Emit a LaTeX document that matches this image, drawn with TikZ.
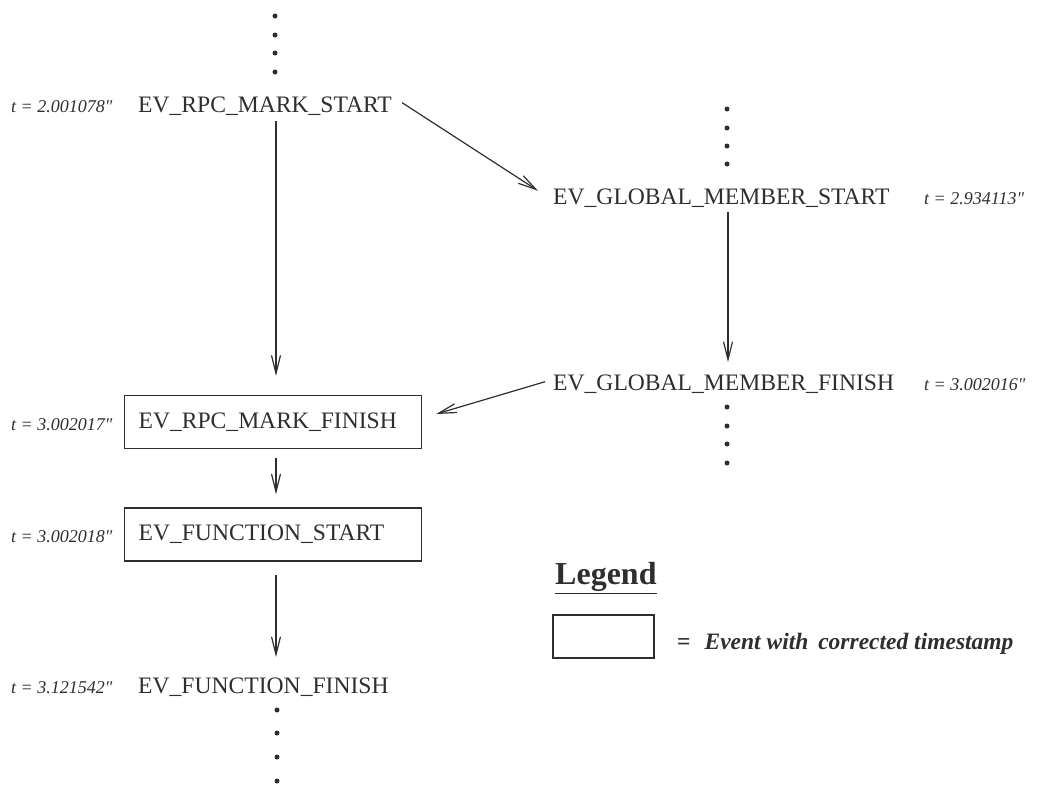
\documentclass[tikz,border=0pt]{standalone}
\usepackage{fontspec}
\setmainfont{Liberation Serif}
\usetikzlibrary{arrows.meta}
\newcommand{\secmark}{\textquotedbl}
\begin{document}
\begin{tikzpicture}[x=1pt,y=-1pt,color=black!82,
  ev/.style={anchor=base west, inner sep=0pt, font=\fontsize{23.6}{26}\selectfont},
  ts/.style={anchor=base west, inner sep=0pt, font=\fontsize{18}{20}\selectfont\itshape},
  evbox/.style={draw, line width=1.2pt, anchor=west, minimum width=297pt, minimum height=53pt,
    inner xsep=14pt, text width=269pt, align=left, font=\fontsize{23.6}{26}\selectfont},
  arr/.style={line width=1.2pt, -{Straight Barb[length=18pt,width=9pt,line width=1.2pt]}},
  vdot/.style={radius=2.5pt}
]
\useasboundingbox (0,0) rectangle (1052,787);

% column axes for the vertical connectors
\coordinate (colL) at (276,0);
\coordinate (colR) at (728,0);

% left chain of events
\node[ev] (rms) at (138,112) {EV\_RPC\_MARK\_START};
\node[ts] (trms) at (11,112) {t = 2.001078\secmark};
\node[evbox] (rmf) at (124,422) {EV\_RPC\_MARK\_FINISH};
\node[ts] (trmf) at (11,430) {t = 3.002017\secmark};
\node[evbox] (fs) at (124,534.5) {EV\_FUNCTION\_START};
\node[ts] (tfs) at (11,542) {t = 3.002018\secmark};
\node[ev] (ff) at (138,693) {EV\_FUNCTION\_FINISH};
\node[ts] (tff) at (11,693) {t = 3.121542\secmark};

% right chain of events
\node[ev] (gms) at (553,204) {EV\_GLOBAL\_MEMBER\_START};
\node[ts] (tgms) at (924,204) {t = 2.934113\secmark};
\node[ev] (gmf) at (553,390) {EV\_GLOBAL\_MEMBER\_FINISH};
\node[ts] (tgmf) at (924,390) {t = 3.002016\secmark};

% continuation dots
\foreach \y in {16,35,53,72} \fill (275,\y) circle[vdot];
\foreach \y in {710,733,757,781} \fill (277,\y) circle[vdot];
\foreach \y in {109,128,146,164} \fill (727,\y) circle[vdot];
\foreach \y in {407,426,444,463} \fill (727,\y) circle[vdot];

% connectors
\draw[arr, shorten <=6pt, shorten >=19pt] (rms.south -| colL) -- (rmf.north -| colL);
\draw[arr, shorten <=9pt, shorten >=13pt] (rmf.south -| colL) -- (fs.north -| colL);
\draw[arr, shorten <=13pt, shorten >=20pt] (fs.south -| colL) -- (ff.north -| colL);
\draw[arr, shorten <=5pt, shorten >=12pt] (gms.south -| colR) -- (gmf.north -| colR);
\draw[arr] ([xshift=10pt,yshift=3pt]rms.east) -- ([xshift=-15pt,yshift=7pt]gms.west);
\draw[arr] ([xshift=-8pt,yshift=2pt]gmf.west) -- ([xshift=14pt,yshift=8pt]rmf.east);

% legend
\node[anchor=base west, inner sep=0pt, font=\fontsize{32}{34}\selectfont\bfseries] (leg) at (555,584) {Legend};
\draw[line width=1.3pt] ([yshift=-2pt]leg.south west) -- ([yshift=-2pt]leg.south east);
\node[draw, line width=1.2pt, minimum width=101pt, minimum height=43pt] (lbox) at (603.5,636.5) {};
\node[anchor=base west, inner sep=0pt, font=\fontsize{23.5}{26}\selectfont\bfseries] (ltxt) at (677,649)
  {=\hspace{14pt}\textit{Event with\hspace{4pt} corrected timestamp}};
\end{tikzpicture}
\end{document}
